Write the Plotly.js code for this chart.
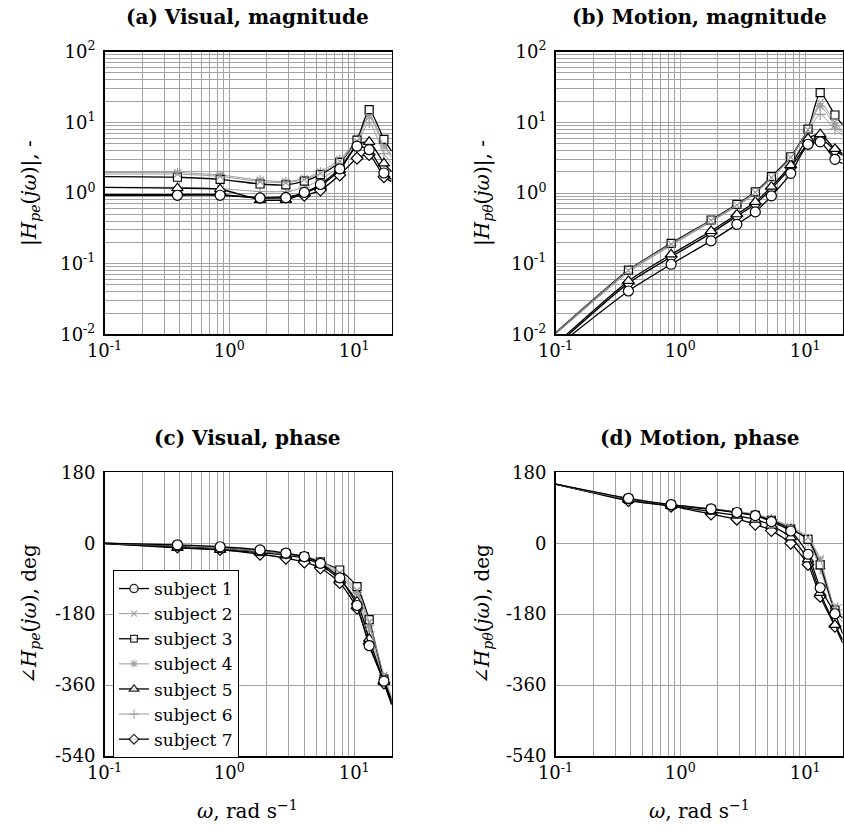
<!DOCTYPE html>
<html>
<head>
<meta charset="utf-8">
<script src="https://cdn.plot.ly/plotly-3.0.1.min.js"></script>
<style>html,body{margin:0;padding:0;background:#fff;}#chart{width:844px;height:839px;}</style>
</head>
<body>
<div id="chart"></div>
<script>
// ---- data ----
const freq = [0.384, 0.844, 1.764, 2.838, 3.988, 5.369, 7.67, 10.55, 13.2, 17.33];
const xLo = 0.1, xHi = 20;
const subjects = ['subject 1','subject 2','subject 3','subject 4','subject 5','subject 6','subject 7'];

// (a) visual magnitude
const magVis1 = [0.93, 0.93, 0.85, 0.86, 1.02, 1.32, 2.2, 4.6, 4.1, 1.92];
const magVis2 = [1.85, 1.72, 1.45, 1.4, 1.55, 1.9, 2.8, 5.4, 12.0, 4.6];
const magVis3 = [1.67, 1.56, 1.34, 1.30, 1.47, 1.82, 2.72, 5.6, 15.1, 5.75];
const magVis4 = [1.95, 1.8, 1.52, 1.45, 1.6, 2.0, 3.0, 5.8, 13.0, 5.0];
const magVis5 = [1.17, 1.13, 0.80, 0.80, 0.99, 1.26, 2.11, 4.8, 5.3, 2.63];
const magVis6 = [1.2, 1.15, 1.05, 1.05, 1.2, 1.55, 2.4, 5.0, 10.0, 3.6];
const magVis7 = [0.95, 0.95, 0.86, 0.88, 0.93, 1.10, 1.80, 3.1, 3.5, 1.7];
const magVisLo = [0.93, 1.85, 1.7, 1.95, 1.2, 1.2, 0.95];
const magVisHi = [1.55, 3.2, 3.9, 3.4, 2.0, 2.6, 1.45];

// (b) motion magnitude
const magMot1 = [0.041, 0.098, 0.21, 0.36, 0.54, 0.91, 1.9, 4.9, 5.3, 3.0];
const magMot2 = [0.08, 0.19, 0.41, 0.68, 1.02, 1.65, 3.2, 7.8, 19, 10];
const magMot3 = [0.081, 0.194, 0.415, 0.69, 1.04, 1.70, 3.26, 8.0, 26.3, 12.7];
const magMot4 = [0.078, 0.185, 0.40, 0.67, 1.0, 1.65, 3.2, 8.0, 17, 9];
const magMot5 = [0.057, 0.135, 0.29, 0.50, 0.75, 1.23, 2.49, 5.9, 6.8, 4.2];
const magMot6 = [0.075, 0.18, 0.39, 0.65, 0.98, 1.6, 3.1, 7.5, 13, 8];
const magMot7 = [0.053, 0.125, 0.27, 0.47, 0.70, 1.15, 2.3, 5.0, 6.0, 4.0];
const magMotLo = [0.0065, 0.0105, 0.0105, 0.0102, 0.0072, 0.0100, 0.0068];
const magMotHi = [2.6, 7.5, 9.2, 7.0, 3.6, 6.5, 3.4];

// (c) visual phase, deg
const phVis1 = [-4, -9, -17, -25, -34, -51, -88, -158, -260, -350];
const phVis2 = [-6, -12, -20, -27, -33, -45, -75, -120, -200, -335];
const phVis3 = [-7, -13, -20, -27, -34, -47, -68, -110, -194, -345];
const phVis4 = [-7, -12, -20, -28, -35, -48, -80, -125, -210, -340];
const phVis5 = [-12, -17, -24, -30, -38, -55, -92, -148, -243, -352];
const phVis6 = [-8, -14, -22, -29, -36, -50, -82, -135, -225, -345];
const phVis7 = [-10, -16, -28, -38, -48, -63, -100, -165, -255, -355];
const phVisLo = [0, 0, 0, 0, -1, 0, -1];
const phVisHi = [-405, -390, -400, -395, -408, -400, -410];

// (d) motion phase, deg
const phMot1 = [114, 98, 87, 78, 70, 55, 31, -28, -113, -179];
const phMot2 = [112, 98, 88, 80, 74, 62, 42, 15, -40, -160];
const phMot3 = [112, 97, 86, 78, 71, 58, 36, 10, -55, -170];
const phMot4 = [112, 98, 87, 80, 73, 60, 40, 12, -45, -165];
const phMot5 = [110, 95, 80, 70, 60, 45, 15, -41, -126, -207];
const phMot6 = [112, 97, 86, 79, 72, 60, 38, 5, -65, -175];
const phMot7 = [108, 94, 74, 61, 48, 32, 0, -54, -135, -211];
const phMotLo = [150, 150, 150, 150, 150, 150, 150];
const phMotHi = [-230, -155, -190, -170, -245, -200, -253];

// ---- styles ----
const BLACK = '#000000', GRAY = '#9a9a9a';
const styles = [
  {color: BLACK, symbol: 'circle', size: 10, fill: '#fff', lw: 1.3},
  {color: GRAY, symbol: 'x-thin-open', size: 7, fill: GRAY, lw: 1},
  {color: BLACK, symbol: 'square', size: 8, fill: '#fff', lw: 1.3},
  {color: GRAY, symbol: 'asterisk-open', size: 8, fill: GRAY, lw: 1},
  {color: BLACK, symbol: 'triangle-up', size: 10, fill: '#fff', lw: 1.3},
  {color: GRAY, symbol: 'cross-thin-open', size: 8, fill: GRAY, lw: 1},
  {color: BLACK, symbol: 'diamond', size: 9, fill: '#fff', lw: 1.3}
];

const panels = [
  {data: [magVis1, magVis2, magVis3, magVis4, magVis5, magVis6, magVis7], lo: magVisLo, hi: magVisHi, xa: 'x', ya: 'y', legend: false},
  {data: [magMot1, magMot2, magMot3, magMot4, magMot5, magMot6, magMot7], lo: magMotLo, hi: magMotHi, xa: 'x2', ya: 'y2', legend: false},
  {data: [phVis1, phVis2, phVis3, phVis4, phVis5, phVis6, phVis7], lo: phVisLo, hi: phVisHi, xa: 'x3', ya: 'y3', legend: true},
  {data: [phMot1, phMot2, phMot3, phMot4, phMot5, phMot6, phMot7], lo: phMotLo, hi: phMotHi, xa: 'x4', ya: 'y4', legend: false}
];

// subject 7 drawn first, subject 1 last (on top); legend reversed back to 1..7
const traces = [];
panels.forEach(p => {
  for (let i = p.data.length - 1; i >= 0; i--) {
    const vals = p.data[i];
    const s = styles[i];
    const sizes = [0].concat(vals.map(() => s.size), [0]);
    const ops = [0].concat(vals.map(() => 1), [0]);
    traces.push({
      type: 'scatter', mode: 'lines+markers',
      name: subjects[i], legendgroup: subjects[i], showlegend: p.legend,
      x: [xLo].concat(freq, [xHi]),
      y: [p.lo[i]].concat(vals, [p.hi[i]]),
      xaxis: p.xa, yaxis: p.ya,
      line: {color: s.color, width: s.lw, shape: 'spline', smoothing: 0.6},
      marker: {symbol: s.symbol, size: sizes, opacity: ops, color: s.fill, line: {color: s.color, width: 1.2}},
      hoverinfo: 'skip'
    });
  }
});

// ---- axes ----
const GRID = '#a3a3a3';
const FONT = 'DejaVu Serif';
function logMinor(a, b) {
  const v = [];
  for (let e = a; e < b; e++) for (let k = 2; k <= 9; k++) v.push(k * Math.pow(10, e));
  return v;
}
function xAxis(dom, anchor) {
  return {
    type: 'log', range: [-1, Math.log10(20)], domain: dom, anchor: anchor,
    tickmode: 'array', tickvals: [0.1, 1, 10],
    ticktext: ['10<sup>-1</sup>', '10<sup>0</sup>', '10<sup>1</sup>'],
    showgrid: true, gridcolor: GRID, gridwidth: 1,
    minor: {tickmode: 'array', tickvals: logMinor(-1, 2), showgrid: true, gridcolor: GRID, gridwidth: 1, ticks: ''},
    showline: true, mirror: true, linecolor: '#000', linewidth: 1.5,
    ticks: '', zeroline: false, fixedrange: true,
    tickfont: {family: FONT, size: 18, color: '#000'}
  };
}
function yMagAxis(dom, anchor) {
  return {
    type: 'log', range: [-2, 2], domain: dom, anchor: anchor,
    tickmode: 'array', tickvals: [0.01, 0.1, 1, 10, 100],
    ticktext: ['10<sup>-2</sup>', '10<sup>-1</sup>', '10<sup>0</sup>', '10<sup>1</sup>', '10<sup>2</sup>'],
    showgrid: true, gridcolor: GRID, gridwidth: 1,
    minor: {tickmode: 'array', tickvals: logMinor(-2, 2), showgrid: true, gridcolor: GRID, gridwidth: 1, ticks: ''},
    showline: true, mirror: true, linecolor: '#000', linewidth: 1.5,
    ticks: '', zeroline: false, fixedrange: true, ticklabelstandoff: 4,
    tickfont: {family: FONT, size: 18, color: '#000'}
  };
}
function yPhAxis(dom, anchor) {
  return {
    range: [-540, 180], domain: dom, anchor: anchor,
    tickmode: 'array', tickvals: [-540, -360, -180, 0, 180],
    ticktext: ['-540', '-360', '-180', '0', '180'],
    showgrid: true, gridcolor: GRID, gridwidth: 1,
    showline: true, mirror: true, linecolor: '#000', linewidth: 1.5,
    ticks: '', zeroline: false, fixedrange: true, ticklabelstandoff: 4,
    tickfont: {family: FONT, size: 18, color: '#000'}
  };
}

const W = 844, H = 839;
const px = v => v / W, py = v => 1 - v / H;
const domXL = [px(104.5), px(391.7)], domXR = [px(555.5), px(842.7)];
const domYT = [py(334.3), py(51.7)], domYB = [py(756), py(472.3)];

const titleFont = {family: FONT, size: 20, color: '#000'};
const labFont = {family: FONT, size: 20, color: '#000'};
const annotations = [
  {text: '<b>(a) Visual, magnitude</b>', x: px(248), y: py(17), font: titleFont},
  {text: '<b>(b) Motion, magnitude</b>', x: px(699), y: py(17), font: titleFont},
  {text: '<b>(c) Visual, phase</b>', x: px(248), y: py(438), font: titleFont},
  {text: '<b>(d) Motion, phase</b>', x: px(699), y: py(438), font: titleFont},
  {text: '|<i>H</i><sub><i>pe</i></sub>(<i>jω</i>)|, -', x: px(30), y: py(193), textangle: -90, font: labFont},
  {text: '|<i>H</i><sub><i>pθ</i></sub>(<i>jω</i>)|, -', x: px(483), y: py(193), textangle: -90, font: labFont},
  {text: '∠<i>H</i><sub><i>pe</i></sub>(<i>jω</i>), deg', x: px(30), y: py(614), textangle: -90, font: labFont},
  {text: '∠<i>H</i><sub><i>pθ</i></sub>(<i>jω</i>), deg', x: px(483), y: py(614), textangle: -90, font: labFont},
  {text: '<i>ω</i>, rad s<sup>−1</sup>', x: px(248), y: py(810), font: labFont},
  {text: '<i>ω</i>, rad s<sup>−1</sup>', x: px(699), y: py(810), font: labFont}
].map(a => Object.assign({xref: 'paper', yref: 'paper', showarrow: false, xanchor: 'center', yanchor: 'middle'}, a));

const layout = {
  width: W, height: H,
  margin: {l: 0, r: 0, t: 0, b: 0},
  paper_bgcolor: '#fff', plot_bgcolor: '#fff',
  showlegend: true,
  legend: {
    x: px(113), y: py(570), xanchor: 'left', yanchor: 'top',
    bgcolor: '#fff', bordercolor: '#000', borderwidth: 1,
    font: {family: FONT, size: 17, color: '#000'},
    itemwidth: 30, tracegroupgap: 0, traceorder: 'reversed'
  },
  xaxis: xAxis(domXL, 'y'), yaxis: yMagAxis(domYT, 'x'),
  xaxis2: xAxis(domXR, 'y2'), yaxis2: yMagAxis(domYT, 'x2'),
  xaxis3: xAxis(domXL, 'y3'), yaxis3: yPhAxis(domYB, 'x3'),
  xaxis4: xAxis(domXR, 'y4'), yaxis4: yPhAxis(domYB, 'x4'),
  annotations: annotations
};

Plotly.newPlot('chart', traces, layout, {displayModeBar: false, staticPlot: true});
</script>
</body>
</html>
